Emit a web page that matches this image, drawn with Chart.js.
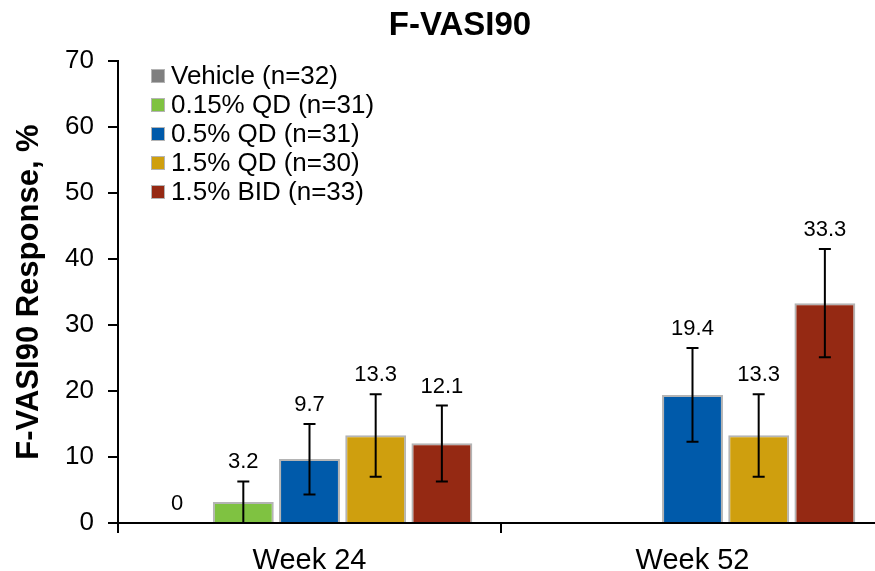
<!DOCTYPE html>
<html>
<head>
<meta charset="utf-8">
<script src="https://cdn.jsdelivr.net/npm/chart.js@4/dist/chart.umd.min.js"></script>
<style>
  html, body { margin: 0; padding: 0; background: #fff; overflow: hidden; }
  #wrap { width: 886px; height: 571px; }
</style>
</head>
<body>
<div id="wrap"><canvas id="chart" width="886" height="571"></canvas></div>
<script>
const chartTitle = "F-VASI90";
const yTitle = "F-VASI90 Response, %";
const weeks = ["Week 24", "Week 52"];

const groups = ["Vehicle (n=32)", "0.15% QD (n=31)", "0.5% QD (n=31)", "1.5% QD (n=30)", "1.5% BID (n=33)"];
const colors = ["#7f7f7f", "#7fc241", "#005aaa", "#cf9f0e", "#952913"];

// response % per group, [week 24, week 52]
const vehicle = [0, null];
const qd015 = [3.2, null];
const qd05 = [9.7, 19.4];
const qd15 = [13.3, 13.3];
const bid15 = [12.1, 33.3];

// error bar ends (low / high)
const vehicleLo = [0, null],  vehicleHi = [0, null];
const qd015Lo = [0, null],    qd015Hi = [6.3, null];
const qd05Lo = [4.3, 12.3],   qd05Hi = [15.0, 26.5];
const qd15Lo = [7.0, 7.0],    qd15Hi = [19.5, 19.5];
const bid15Lo = [6.3, 25.1],  bid15Hi = [17.8, 41.5];

const yTicks = [0, 10, 20, 30, 40, 50, 60, 70];

const values = [vehicle, qd015, qd05, qd15, bid15];
const lows = [vehicleLo, qd015Lo, qd05Lo, qd15Lo, bid15Lo];
const highs = [vehicleHi, qd015Hi, qd05Hi, qd15Hi, bid15Hi];

const font = "'Liberation Sans', Arial, sans-serif";

const extras = {
  id: "extras",
  afterDatasetsDraw(chart) {
    const ctx = chart.ctx;
    const y = chart.scales.y;
    ctx.save();
    chart.data.datasets.forEach((ds, di) => {
      const meta = chart.getDatasetMeta(di);
      meta.data.forEach((bar, i) => {
        if (ds.data[i] == null) return;
        const lo = ds.errLo[i], hi = ds.errHi[i];
        const yHi = y.getPixelForValue(hi);
        const yLo = y.getPixelForValue(lo);
        if (hi > lo) {
          ctx.strokeStyle = "#000";
          ctx.lineWidth = 2;
          ctx.beginPath();
          ctx.moveTo(bar.x, yLo); ctx.lineTo(bar.x, yHi);
          ctx.moveTo(bar.x - 6, yHi); ctx.lineTo(bar.x + 6, yHi);
          ctx.moveTo(bar.x - 6, yLo); ctx.lineTo(bar.x + 6, yLo);
          ctx.stroke();
        }
        const top = Math.min(yHi, y.getPixelForValue(ds.data[i]));
        ctx.fillStyle = "#000";
        ctx.font = "22px " + font;
        ctx.textAlign = "center";
        ctx.textBaseline = "alphabetic";
        ctx.fillText(String(ds.data[i]), bar.x, top - 13);
      });
    });
    ctx.restore();
  },
  afterDraw(chart) {
    const ctx = chart.ctx;
    const area = chart.chartArea;
    ctx.save();
    // title
    ctx.fillStyle = "#000";
    ctx.font = "bold 33px " + font;
    ctx.textAlign = "center";
    ctx.textBaseline = "middle";
    ctx.fillText(chartTitle, 460, 26);
    // legend
    ctx.font = "26px " + font;
    ctx.textAlign = "left";
    chart.data.datasets.forEach((ds, i) => {
      const cy = area.top + 15 + i * 29;
      const bx = area.left + 33;
      ctx.fillStyle = ds.backgroundColor;
      ctx.fillRect(bx, cy - 7, 14, 14);
      ctx.strokeStyle = "#b4b4b4";
      ctx.lineWidth = 1;
      ctx.strokeRect(bx + 0.5, cy - 6.5, 13, 13);
      ctx.fillStyle = "#000";
      ctx.fillText(ds.label, bx + 20, cy + 1);
    });
    ctx.restore();
  }
};

new Chart(document.getElementById("chart").getContext("2d"), {
  type: "bar",
  data: {
    labels: weeks,
    datasets: groups.map((g, i) => ({
      label: g,
      data: values[i],
      errLo: lows[i],
      errHi: highs[i],
      backgroundColor: colors[i],
      borderColor: "#b4b4b4",
      borderWidth: 2,
      categoryPercentage: 0.864,
      barPercentage: 0.92
    }))
  },
  options: {
    responsive: false,
    animation: false,
    devicePixelRatio: 1,
    layout: { padding: { top: 61, right: 2, bottom: 0, left: 0 } },
    plugins: {
      legend: { display: false },
      title: { display: false },
      tooltip: { enabled: false }
    },
    scales: {
      x: {
        afterFit(scale) { scale.height = 48; },
        grid: { offset: true, drawOnChartArea: false, tickLength: 10, color: "#000", lineWidth: 2 },
        border: { color: "#000", width: 2 },
        ticks: { color: "#000", font: { family: font, size: 29, lineHeight: 1.0 }, padding: 13 }
      },
      y: {
        min: 0,
        max: 70,
        afterFit(scale) { scale.width = 118; },
        afterBuildTicks(scale) { scale.ticks = yTicks.map(v => ({ value: v })); },
        grid: { drawOnChartArea: false, tickLength: 10, color: "#000", lineWidth: 2 },
        border: { color: "#000", width: 2 },
        ticks: { color: "#000", font: { family: font, size: 26 }, padding: 14 },
        title: {
          display: true,
          text: yTitle,
          color: "#000",
          font: { family: font, size: 31, weight: "bold" },
          padding: { top: 11, bottom: 0 }
        }
      }
    }
  },
  plugins: [extras]
});
</script>
</body>
</html>
